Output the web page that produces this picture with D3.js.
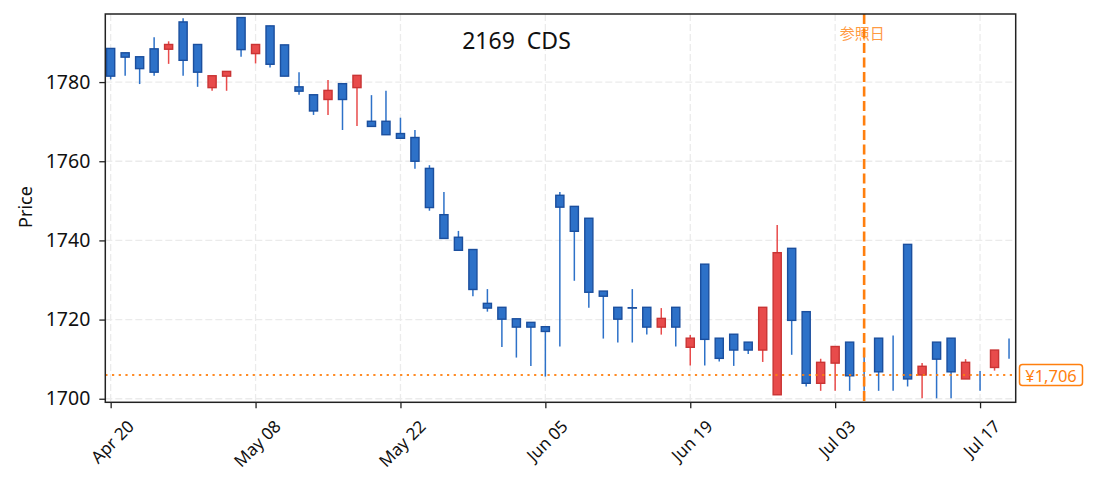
<!DOCTYPE html>
<html><head>
<meta charset="utf-8">
<title>2169 CDS</title>
<script src="https://cdn.jsdelivr.net/npm/d3@7"></script>
<style>
  body { margin: 0; background: #fff; }
  svg { display: block; font-family: "Noto Sans", "Noto Sans CJK JP", sans-serif; }
  text { white-space: pre; }
</style>
</head>
<body>
<svg id="chart" width="1095" height="492"></svg>

<script>
// trading days (TSE, 2020)
var dates = [
  "2020-04-20","2020-04-21","2020-04-22","2020-04-23","2020-04-24",
  "2020-04-27","2020-04-28","2020-04-30","2020-05-01",
  "2020-05-07","2020-05-08",
  "2020-05-11","2020-05-12","2020-05-13","2020-05-14","2020-05-15",
  "2020-05-18","2020-05-19","2020-05-20","2020-05-21","2020-05-22",
  "2020-05-25","2020-05-26","2020-05-27","2020-05-28","2020-05-29",
  "2020-06-01","2020-06-02","2020-06-03","2020-06-04","2020-06-05",
  "2020-06-08","2020-06-09","2020-06-10","2020-06-11","2020-06-12",
  "2020-06-15","2020-06-16","2020-06-17","2020-06-18","2020-06-19",
  "2020-06-22","2020-06-23","2020-06-24","2020-06-25","2020-06-26",
  "2020-06-29","2020-06-30","2020-07-01","2020-07-02","2020-07-03",
  "2020-07-06","2020-07-07","2020-07-08","2020-07-09","2020-07-10",
  "2020-07-13","2020-07-14","2020-07-15","2020-07-16","2020-07-17",
  "2020-07-20","2020-07-21"
];

var openP = [
  1788.5,1787.4,1786.4,1788.4,1788.3,1795.2,1789.5,1778.6,1781.5,1796.3,
  1787.2,1794.2,1789.4,1778.8,1776.8,1775.6,1779.6,1778.6,1770.1,1770.1,
  1767.0,1766.0,1758.2,1746.5,1740.8,1737.7,1724.1,1723.1,1720.2,1719.3,
  1718.2,1751.4,1748.6,1745.6,1727.2,1723.1,1723.0,1723.1,1718.1,1723.1,
  1713.0,1734.0,1715.3,1716.3,1714.3,1712.3,1701.0,1738.0,1722.0,1703.9,
  1709.0,1714.3,1708.0,1715.3,1716.0,1739.0,1706.0,1714.3,1715.3,1705.0,
  1707.0,1707.9,1715.2
];
var highP = [
  1788.5,1787.4,1786.4,1791.3,1790.3,1796.1,1789.5,1781.6,1782.7,1796.3,
  1789.5,1794.2,1789.4,1782.5,1776.8,1780.5,1779.6,1781.7,1776.7,1777.8,
  1771.0,1767.9,1759.0,1752.2,1742.4,1737.7,1727.7,1723.1,1720.2,1719.3,
  1718.2,1752.2,1748.6,1745.6,1727.2,1723.1,1727.7,1723.1,1722.9,1723.1,
  1716.1,1734.0,1715.3,1716.3,1714.3,1723.1,1743.9,1738.0,1722.0,1710.1,
  1713.2,1714.3,1711.1,1715.3,1716.0,1739.0,1709.0,1714.3,1715.3,1710.0,
  1707.0,1712.3,1715.2
];
var lowP = [
  1780.7,1781.6,1779.5,1781.6,1784.6,1781.6,1778.8,1777.8,1777.8,1786.4,
  1784.7,1783.7,1781.5,1776.8,1771.7,1771.7,1767.9,1768.9,1768.8,1766.7,
  1765.8,1758.1,1747.5,1740.5,1737.5,1725.9,1722.0,1713.1,1710.4,1708.3,
  1705.6,1713.2,1729.8,1723.0,1715.2,1714.2,1714.2,1716.2,1716.2,1713.2,
  1708.4,1708.4,1709.4,1708.3,1711.3,1709.3,1701.0,1711.1,1703.1,1702.0,
  1702.0,1702.0,1702.0,1702.0,1702.0,1703.1,1700.1,1700.1,1700.1,1705.0,
  1702.0,1707.1,1710.1
];
var closeP = [
  1781.5,1786.3,1783.4,1782.5,1789.5,1785.5,1782.5,1781.6,1782.7,1788.2,
  1789.5,1784.5,1781.5,1777.7,1772.7,1777.9,1775.6,1781.7,1768.8,1766.7,
  1765.8,1760.0,1748.3,1740.5,1737.5,1727.6,1722.9,1720.1,1718.1,1718.1,
  1717.0,1748.4,1742.3,1726.9,1725.9,1720.1,1722.9,1718.1,1720.3,1718.1,
  1715.3,1715.0,1710.2,1712.3,1712.3,1723.1,1736.9,1719.8,1703.9,1709.2,
  1713.2,1705.8,1708.0,1706.8,1716.0,1705.0,1708.2,1710.0,1706.8,1709.2,
  1707.0,1712.3,1715.2
];

var yTicks = [1700, 1720, 1740, 1760, 1780];
var xTickIdx = [0, 10, 20, 30, 40, 50, 60];
var refDate = "2020-07-07";
var refLabel = "参照日";
var refPrice = 1706;
var title = "2169  CDS";

var plot = {left: 105.3, top: 14, right: 1015.7, bottom: 402.3};

var parse = d3.timeParse("%Y-%m-%d");
var fmt = d3.timeFormat("%b %d");

var svg = d3.select("#chart");

var x = d3.scaleLinear().domain([-0.37, 62.46]).range([plot.left, plot.right]);
var y = d3.scaleLinear().domain([1699.1, 1797.2]).range([plot.bottom, plot.top]);

var step = x(1) - x(0);
var bodyW = step * 0.56;

// grid
var grid = svg.append("g");
yTicks.forEach(function(v) {
  grid.append("line")
    .attr("x1", plot.left).attr("x2", plot.right)
    .attr("y1", y(v)).attr("y2", y(v))
    .attr("stroke", "#ebebeb").attr("stroke-width", 1.3)
    .attr("stroke-dasharray", "7,3");
});
xTickIdx.forEach(function(i) {
  grid.append("line")
    .attr("x1", x(i)).attr("x2", x(i))
    .attr("y1", plot.top).attr("y2", plot.bottom)
    .attr("stroke", "#ebebeb").attr("stroke-width", 1.3)
    .attr("stroke-dasharray", "7,3");
});

// candles
var idx = d3.range(dates.length);
var upFill = "#e84b4b", upEdge = "#c93434";
var dnFill = "#2d71c8", dnEdge = "#1b4f9e";

function isUp(i) { return closeP[i] > openP[i]; }

var candles = svg.append("g");
candles.selectAll("line.wick")
  .data(idx).enter().append("line")
    .attr("class", "wick")
    .attr("x1", function(i) { return x(i); })
    .attr("x2", function(i) { return x(i); })
    .attr("y1", function(i) { return y(highP[i]); })
    .attr("y2", function(i) { return y(lowP[i]); })
    .attr("stroke", function(i) { return isUp(i) ? upFill : dnFill; })
    .attr("stroke-width", 1.5);

candles.selectAll("rect.body")
  .data(idx).enter().append("rect")
    .attr("class", "body")
    .attr("x", function(i) { return x(i) - bodyW / 2; })
    .attr("width", bodyW)
    .attr("y", function(i) { return y(Math.max(openP[i], closeP[i])); })
    .attr("height", function(i) { return Math.abs(y(openP[i]) - y(closeP[i])); })
    .attr("fill", function(i) { return isUp(i) ? upFill : dnFill; })
    .attr("stroke", function(i) { return isUp(i) ? upEdge : dnEdge; })
    .attr("stroke-width", 1.4);

// reference lines
var refI = dates.indexOf(refDate);
svg.append("line")
  .attr("x1", plot.left).attr("x2", plot.right)
  .attr("y1", y(refPrice)).attr("y2", y(refPrice))
  .attr("stroke", "#ff7f0e").attr("stroke-width", 2)
  .attr("stroke-dasharray", "2.2,4.5").attr("opacity", 0.9);

svg.append("text")
  .attr("x", x(refI) - 2).attr("y", 38.5)
  .attr("text-anchor", "middle")
  .attr("font-family", "'Noto Sans CJK JP', sans-serif")
  .attr("font-size", 15)
  .attr("fill", "#ff7f0e").attr("fill-opacity", 0.8)
  .text(refLabel);

svg.append("line")
  .attr("x1", x(refI)).attr("x2", x(refI))
  .attr("y1", plot.top).attr("y2", plot.bottom)
  .attr("stroke", "#ff7f0e").attr("stroke-width", 2.6)
  .attr("stroke-dasharray", "10,4.5");

// axes
var axisColor = "#222";
var yAxis = svg.append("g")
  .attr("transform", "translate(" + plot.left + ",0)")
  .call(d3.axisLeft(y).tickValues(yTicks).tickSize(6).tickPadding(9).tickFormat(d3.format("d")));
yAxis.select(".domain").remove();
yAxis.selectAll("line").attr("stroke", axisColor).attr("stroke-width", 1.3);
yAxis.selectAll("text").attr("font-size", 19.5).attr("fill", "#111")
  .attr("font-family", "'Noto Sans', sans-serif");

var xAxis = svg.append("g")
  .attr("transform", "translate(0," + plot.bottom + ")")
  .call(d3.axisBottom(x).tickValues(xTickIdx).tickSize(6)
    .tickFormat(function(i) { return fmt(parse(dates[i])); }));
xAxis.select(".domain").remove();
xAxis.selectAll("line").attr("stroke", axisColor).attr("stroke-width", 1.3);
xAxis.selectAll("text")
  .attr("font-size", 17).attr("fill", "#111")
  .attr("font-family", "'Noto Sans', sans-serif")
  .attr("y", null).attr("dy", null)
  .attr("text-anchor", "middle")
  .attr("dominant-baseline", "central")
  .attr("transform", function() {
    var L = this.getComputedTextLength();
    var half = (L + 16) / Math.SQRT2 / 2;
    return "translate(1," + (15 + half) + ") rotate(-45)";
  });

// frame
svg.append("rect")
  .attr("x", plot.left).attr("y", plot.top)
  .attr("width", plot.right - plot.left).attr("height", plot.bottom - plot.top)
  .attr("fill", "none").attr("stroke", axisColor).attr("stroke-width", 1.5);

// y label
svg.append("text")
  .attr("transform", "translate(32,207) rotate(-90)")
  .attr("text-anchor", "middle")
  .attr("font-size", 18).attr("fill", "#111")
  .text("Price");

// title
svg.append("text")
  .attr("x", 516.5).attr("y", 48.5)
  .attr("text-anchor", "middle")
  .attr("font-size", 23).attr("fill", "#111")
  .text(title);

// price tag
var tag = svg.append("g").attr("transform", "translate(1019.5," + y(refPrice) + ")");
tag.append("rect")
  .attr("x", 0).attr("y", -10.5).attr("width", 63).attr("height", 21)
  .attr("rx", 3).attr("fill", "#fff")
  .attr("stroke", "#ff7f0e").attr("stroke-width", 1.5);
tag.append("text")
  .attr("x", 31.5).attr("y", 0.5)
  .attr("text-anchor", "middle").attr("dominant-baseline", "central")
  .attr("font-size", 16.5).attr("fill", "#ff7f0e")
  .text("¥" + d3.format(",")(refPrice));
</script>
</body></html>
